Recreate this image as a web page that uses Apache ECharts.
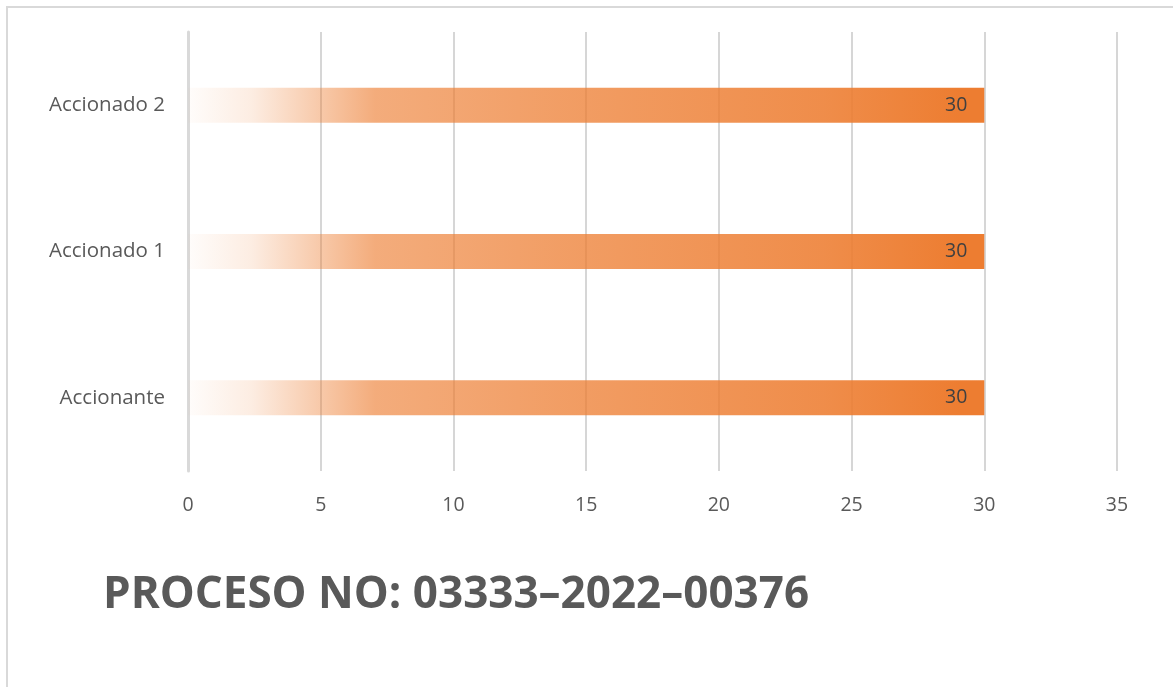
<!DOCTYPE html>
<html>
<head>
<meta charset="utf-8">
<script src="https://cdn.jsdelivr.net/npm/echarts@6/dist/echarts.min.js"></script>
<style>
  html, body { margin: 0; padding: 0; background: #fff; }
  #chart { width: 1173px; height: 687px; }
</style>
</head>
<body>
<div id="chart"></div>
<script>
// Parties in the case, bottom to top
const categories = ['Accionante', 'Accionado 1', 'Accionado 2'];
const values = [30, 30, 30];
const tickValues = [0, 5, 10, 15, 20, 25, 30, 35];
const titleText = 'PROCESO NO: 03333\u20132022\u201300376';

const orange = a => 'rgba(237,125,49,' + a + ')';

const chart = echarts.init(document.getElementById('chart'), null, { renderer: 'canvas' });

chart.setOption({
  animation: false,
  backgroundColor: '#ffffff',
  grid: { left: 188, right: 56, top: 32, bottom: 216, containLabel: false },
  xAxis: {
    type: 'value',
    min: tickValues[0],
    max: tickValues[tickValues.length - 1],
    interval: 5,
    axisLine: { show: false },
    axisTick: { show: false },
    splitLine: { show: true, lineStyle: { color: '#c8c8c8', width: 1.5 } },
    axisLabel: {
      margin: 24,
      color: '#595959',
      fontFamily: 'Open Sans',
      fontSize: 19.5
    }
  },
  yAxis: {
    type: 'category',
    data: categories,
    axisLine: { show: true, lineStyle: { color: '#d9d9d9', width: 3 } },
    axisTick: { show: false },
    axisLabel: {
      margin: 23,
      color: '#595959',
      fontFamily: 'Open Sans',
      fontSize: 20.5
    }
  },
  series: [{
    type: 'bar',
    data: values,
    barWidth: 35,
    z: 1,
    itemStyle: {
      color: {
        type: 'linear', x: 0, y: 0, x2: 1, y2: 0,
        colorStops: [
          { offset: 0, color: orange(0.02) },
          { offset: 0.08, color: orange(0.14) },
          { offset: 0.167, color: orange(0.42) },
          { offset: 0.235, color: orange(0.64) },
          { offset: 0.47, color: orange(0.75) },
          { offset: 0.8, color: orange(0.88) },
          { offset: 0.97, color: orange(1) },
          { offset: 1, color: orange(1) }
        ]
      }
    },
    label: {
      show: true,
      position: 'insideRight',
      distance: 17,
      color: '#404040',
      fontFamily: 'Open Sans',
      fontSize: 19.5
    }
  }],
  graphic: [
    {
      type: 'rect',
      silent: true,
      z: -10,
      shape: { x: 7, y: 7, width: 1200, height: 720 },
      style: { fill: 'none', stroke: '#d9d9d9', lineWidth: 2 }
    },
    {
      type: 'text',
      left: 103,
      top: 573,
      style: {
        text: titleText,
        fill: '#595959',
        font: 'bold 44px "Open Sans"'
      }
    }
  ]
});
</script>
</body>
</html>
